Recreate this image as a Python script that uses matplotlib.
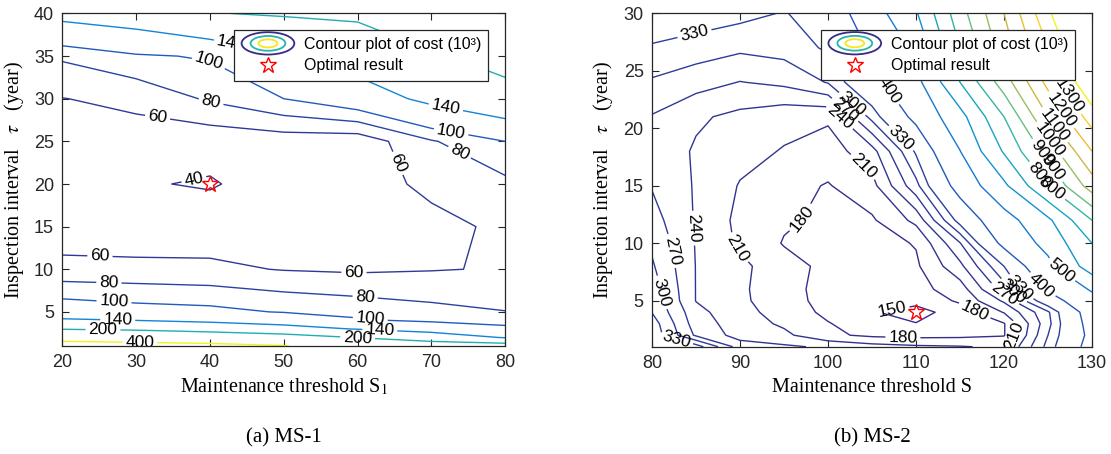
import numpy as np
import matplotlib
matplotlib.use("Agg")
import matplotlib.pyplot as plt
from matplotlib.colors import LinearSegmentedColormap, Normalize
from matplotlib.legend_handler import HandlerBase
from matplotlib.patches import Ellipse
from matplotlib.lines import Line2D

plt.rcParams['font.family'] = ['Liberation Sans', 'DejaVu Sans']
plt.rcParams['mathtext.fontset'] = 'stix'

# -- (a) MS-1 : cost (10^3) on the S1 / tau grid --
s1 = [20, 30, 40, 50, 60, 70, 80]
tau1 = [1, 2, 3, 4, 5, 10, 15, 20, 25, 30, 35, 40]
cost1 = [
    [522, 505, 462, 410, 260, 235, 230],
    [300, 260, 256, 230, 198, 170, 137],
    [196, 190, 170, 155, 138, 120, 107],
    [146, 140, 132, 123, 103, 96, 90],
    [115, 109, 106, 98.5, 93, 86, 80.5],
    [66, 65.5, 64, 59, 57, 59, 61.3],
    [48, 46, 48.6, 48, 50, 55, 63.3],
    [45, 41.3, 38.6, 47.5, 52, 64, 75],
    [50, 51, 46, 49, 47.1, 78, 100],
    [59.5, 65, 82.8, 100, 118.5, 150, 175],
    [83, 97, 102.3, 135, 160, 192, 225],
    [153, 165, 198, 205, 210, 260, 290],
]
levels1 = [40, 60, 80, 100, 140, 200, 400]
opt1 = (40, 20)

# -- (b) MS-2 : cost (10^3) on the S / tau grid --
s2 = [80, 85, 90, 95, 100, 105, 110, 115, 120, 125, 130]
tau2 = [1, 2, 3, 4, 5, 6, 8, 10, 12, 15, 18, 21, 24, 27, 30]
cost2 = [
    [390, 345, 255, 245, 235, 222, 215, 212, 205, 310, 430],
    [350, 265, 228, 217, 186, 174, 170, 172, 178, 300, 420],
    [345, 255, 225, 205, 182, 160, 151, 158, 178, 290, 430],
    [329, 250, 218, 200, 172, 152, 140, 163, 212, 295, 440],
    [322, 239, 218, 186, 175, 164, 158, 185, 245, 360, 470],
    [316, 239, 216, 188, 172, 166, 170, 195, 285, 410, 510],
    [304, 239, 217, 192, 172, 166, 175, 232, 330, 475, 650],
    [294, 238, 205, 178, 170, 168, 182, 268, 420, 530, 700],
    [282, 237, 202, 184, 174, 176, 218, 345, 460, 580, 800],
    [268, 237, 208, 190, 178, 200, 290, 430, 580, 800, 1050],
    [263, 236, 220, 208, 196, 228, 335, 498, 710, 940, 1200],
    [268, 245, 232, 220, 215, 310, 420, 565, 800, 1100, 1350],
    [296, 282, 269, 277, 302, 375, 470, 700, 950, 1230, 1500],
    [326, 316, 306, 312, 335, 410, 520, 800, 1050, 1300, 1570],
    [358, 349, 340, 328, 348, 455, 590, 860, 1100, 1380, 1650],
]
levels2 = [150, 180, 210, 240, 270, 300, 330, 400, 500, 600, 700,
           800, 900, 1000, 1100, 1200, 1300, 1400]
opt2 = (110, 4)

# where the inline labels sit (data coords)
lab1 = [(43, 37.1), (39.9, 34.5), (40.1, 29.4), (32.9, 27.8), (71.9, 28.8),
        (72.7, 26.3), (73.8, 23.7), (65.1, 22.3), (37.9, 20.2), (25.1, 11.6),
        (59.5, 9.5), (26.3, 8.3), (27, 6.2), (27.5, 3.9), (25.5, 2.8), (30.5, 1.4),
        (61, 6.5), (61.7, 4.0), (63, 2.7), (60, 1.9)]
lab2 = [(84.8, 28.3), (102.5, 21.9), (101.7, 21.4), (100.9, 20.6), (107.1, 23.4),
        (108.5, 19.3), (104.3, 16.9), (96.4, 12.4), (84.4, 11.3), (89.2, 9.3),
        (82, 9.3), (81.6, 5.8), (82.8, 1.8), (107.3, 4.2), (108.5, 1.6),
        (116.5, 3.9), (120.9, 2.1), (120, 5.5), (121, 5.8), (122, 6.2),
        (124.9, 6.7), (126.9, 8.1), (127.3, 22.8), (126.5, 21.6), (126.1, 20.5),
        (125.7, 19.3), (125.5, 18.5), (125.3, 17.6), (125.1, 16.5), (124.9, 15.2)]

# parula-like colour map
parula = LinearSegmentedColormap.from_list('parula_like', [
    (0.00, (0.21, 0.17, 0.53)),
    (0.15, (0.17, 0.25, 0.62)),
    (0.22, (0.12, 0.38, 0.78)),
    (0.30, (0.08, 0.50, 0.85)),
    (0.40, (0.05, 0.62, 0.80)),
    (0.50, (0.15, 0.70, 0.68)),
    (0.60, (0.40, 0.74, 0.50)),
    (0.70, (0.65, 0.74, 0.35)),
    (0.80, (0.90, 0.70, 0.22)),
    (0.90, (0.98, 0.78, 0.18)),
    (1.00, (0.96, 0.95, 0.10)),
])


class ContourIcon(HandlerBase):
    # three nested ellipses like the matlab contour legend icon
    def create_artists(self, legend, orig_handle, xdescent, ydescent,
                       width, height, fontsize, trans):
        cx = width / 2 - xdescent
        cy = height / 2 - ydescent
        arts = []
        for f, c in zip([1.0, 0.66, 0.36], [parula(0.0), parula(0.5), parula(0.97)]):
            e = Ellipse((cx, cy), width * f, height * 2.0 * f, fill=False,
                        edgecolor=c, lw=1.3, transform=trans)
            arts.append(e)
        return arts


def draw_panel(ax, s, tau, cost, levels, norm, labpos, opt, xlabel, yticks):
    cs = ax.contour(s, tau, np.array(cost), levels=levels, cmap=parula,
                    norm=norm, linewidths=1.0)
    ax.clabel(cs, inline=True, fmt='%d', fontsize=12.5, colors='k',
              manual=labpos, inline_spacing=3)
    ax.plot(opt[0], opt[1], marker='*', ls='none', ms=12, mfc='none',
            mec='red', mew=1.0)
    ax.set_xlim(s[0], s[-1])
    ax.set_ylim(tau[0], tau[-1])
    ax.set_xticks(np.arange(s[0], s[-1] + 1, 10))
    ax.set_yticks(yticks)
    ax.tick_params(direction='in', top=True, right=True, length=5, pad=6,
                   labelsize=13, color='0.15', labelcolor='0.15')
    for sp in ax.spines.values():
        sp.set_color('0.15')
        sp.set_linewidth(0.9)
    ax.set_xlabel(xlabel, family='Liberation Serif', fontsize=14.5, labelpad=4)
    ax.set_ylabel(r'Inspection interval   $\tau$   (year)', family='Liberation Serif',
                  fontsize=14.5, labelpad=6)
    h1 = Ellipse((0, 0), 1, 1)
    h2 = Line2D([], [], marker='*', ls='none', ms=12, mfc='none', mec='red', mew=1.0)
    leg = ax.legend([h1, h2], ['Contour plot of cost (10³)', 'Optimal result'],
                    handler_map={Ellipse: ContourIcon()}, loc='upper right',
                    bbox_to_anchor=(0.962, 0.951), borderaxespad=0, fancybox=False,
                    edgecolor='0.15', framealpha=1, fontsize=11.5, handlelength=3.3,
                    handletextpad=0.6, borderpad=0.45, labelspacing=0.4)
    leg.get_frame().set_linewidth(0.9)


fig = plt.figure(figsize=(11.11, 4.54), dpi=100)
ax1 = fig.add_axes([0.0561, 0.2379, 0.3987, 0.7324])
ax2 = fig.add_axes([0.5869, 0.2363, 0.3960, 0.7344])

draw_panel(ax1, s1, tau1, cost1, levels1, Normalize(20, 400), lab1, opt1,
           r'Maintenance threshold S$_1$', np.arange(5, 41, 5))
draw_panel(ax2, s2, tau2, cost2, levels2, Normalize(150, 1400), lab2, opt2,
           'Maintenance threshold S', np.arange(5, 31, 5))

fig.text(0.2555, 0.035, '(a) MS-1', ha='center', va='center',
         family='Liberation Serif', fontsize=15)
fig.text(0.7849, 0.035, '(b) MS-2', ha='center', va='center',
         family='Liberation Serif', fontsize=15)

fig.savefig('out.png', dpi=100)
